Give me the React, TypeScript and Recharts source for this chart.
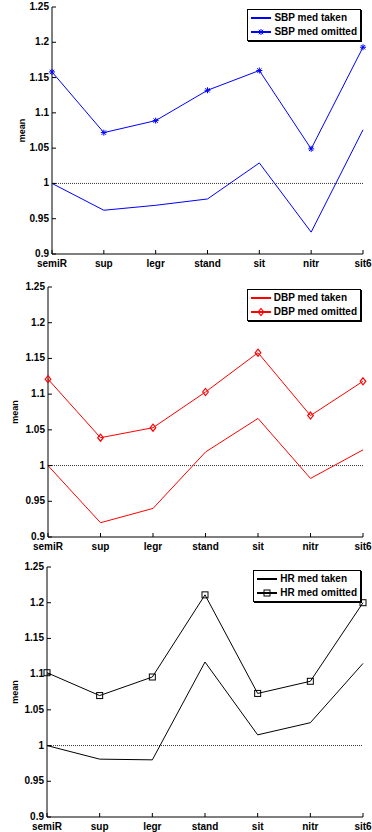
import React from 'react';
import { LineChart, Line, XAxis, YAxis, ReferenceLine, Legend } from 'recharts';

const categories = ['semiR', 'sup', 'legr', 'stand', 'sit', 'nitr', 'sit6'];

const sbpTaken = [1.0, 0.962, 0.969, 0.978, 1.029, 0.931, 1.076];
const sbpOmitted = [1.158, 1.072, 1.089, 1.132, 1.16, 1.049, 1.193];
const dbpTaken = [1.0, 0.92, 0.94, 1.019, 1.066, 0.982, 1.022];
const dbpOmitted = [1.121, 1.039, 1.053, 1.103, 1.158, 1.07, 1.118];
const hrTaken = [1.0, 0.981, 0.98, 1.117, 1.015, 1.032, 1.115];
const hrOmitted = [1.102, 1.07, 1.096, 1.211, 1.073, 1.09, 1.2];

const yTicks = [0.9, 0.95, 1, 1.05, 1.1, 1.15, 1.2, 1.25];
const yLabel = 'mean';

const FONT = '"Liberation Sans", Arial, Helvetica, sans-serif';

type Marker = 'star' | 'diamond' | 'square';

const drawMarker = (kind: Marker, cx: number, cy: number, color: string, key?: any) => {
  if (kind === 'star') {
    const r = 3;
    const d = 2.2;
    return (
      <g key={key}>
        <line x1={cx - r} x2={cx + r} y1={cy} y2={cy} stroke={color} strokeWidth={1} />
        <line x1={cx} x2={cx} y1={cy - r} y2={cy + r} stroke={color} strokeWidth={1} />
        <line x1={cx - d} x2={cx + d} y1={cy - d} y2={cy + d} stroke={color} strokeWidth={1} />
        <line x1={cx - d} x2={cx + d} y1={cy + d} y2={cy - d} stroke={color} strokeWidth={1} />
      </g>
    );
  }
  if (kind === 'diamond') {
    const r = 3.5;
    return (
      <polygon
        key={key}
        points={`${cx},${cy - r} ${cx + r * 0.8},${cy} ${cx},${cy + r} ${cx - r * 0.8},${cy}`}
        fill="none"
        stroke={color}
        strokeWidth={1.2}
      />
    );
  }
  return <rect key={key} x={cx - 3} y={cy - 3} width={6} height={6} fill="none" stroke={color} strokeWidth={1} />;
};

const BottomTick = (props: any) => {
  const { x, y, payload } = props;
  return (
    <g>
      <line x1={x} x2={x} y1={y} y2={y - 4} stroke="#000" />
      <text x={x} y={y + 12.5} textAnchor="middle" fontSize={10} fontWeight="bold" fontFamily={FONT} fill="#000">
        {payload.value}
      </text>
    </g>
  );
};

const TopTick = (props: any) => {
  const { x, y } = props;
  return <line x1={x} x2={x} y1={y} y2={y + 4} stroke="#000" />;
};

const LeftTick = (props: any) => {
  const { x, y, payload } = props;
  return (
    <g>
      <line x1={x} x2={x + 4} y1={y} y2={y} stroke="#000" />
      <text x={x - 3} y={y + 3} textAnchor="end" fontSize={10} fontWeight="bold" fontFamily={FONT} fill="#000">
        {String(Number(Number(payload.value).toFixed(2)))}
      </text>
    </g>
  );
};

const RightTick = (props: any) => {
  const { x, y } = props;
  return <line x1={x} x2={x - 4} y1={y} y2={y} stroke="#000" />;
};

interface PanelProps {
  top: number;
  height: number;
  yWidth: number;
  xHeight: number;
  labelOffset: number;
  color: string;
  marker: Marker;
  name: string;
  taken: number[];
  omitted: number[];
  legendTop: number;
}

const Panel = ({ top, height, yWidth, xHeight, labelOffset, color, marker, name, taken, omitted, legendTop }: PanelProps) => {
  const data = categories.map((c, i) => ({ cat: c, taken: taken[i], omitted: omitted[i] }));
  const takenName = `${name} med taken`;
  const omittedName = `${name} med omitted`;

  const legendContent = () => (
    <div
      style={{
        border: '1px solid #000',
        boxShadow: '1px 1px 0 #000',
        background: '#fff',
        padding: '1px 3px 1px 2px',
        fontFamily: FONT,
        fontSize: 10,
        fontWeight: 'bold',
        lineHeight: '14px',
        color: '#000',
      }}
    >
      {[takenName, omittedName].map((label, i) => (
        <div key={label} style={{ display: 'flex', alignItems: 'center', whiteSpace: 'nowrap', height: 14 }}>
          <svg width={22} height={14} style={{ flex: 'none', display: 'block' }}>
            <line x1={1} x2={21} y1={7} y2={7} stroke={color} strokeWidth={1.3} shapeRendering="crispEdges" />
            {i === 1 && drawMarker(marker, 11, 7, color)}
          </svg>
          <span style={{ marginLeft: 2 }}>{label}</span>
        </div>
      ))}
    </div>
  );

  return (
    <div style={{ position: 'absolute', left: 0, top }}>
      <LineChart width={372} height={height} data={data} margin={{ top: 7, right: 9, bottom: 0, left: 0 }}>
        <XAxis
          dataKey="cat"
          height={xHeight}
          tickSize={0}
          tickMargin={0}
          tick={<BottomTick />}
          interval={0}
          axisLine={{ stroke: '#000' }}
          tickLine={false}
        />
        <XAxis
          dataKey="cat"
          xAxisId="top"
          orientation="top"
          height={0}
          tickSize={0}
          tickMargin={0}
          tick={<TopTick />}
          interval={0}
          axisLine={{ stroke: '#000' }}
          tickLine={false}
        />
        <YAxis
          type="number"
          domain={[0.9, 1.25]}
          ticks={yTicks}
          width={yWidth}
          tickSize={0}
          tickMargin={0}
          tick={<LeftTick />}
          interval={0}
          axisLine={{ stroke: '#000' }}
          tickLine={false}
          label={{
            content: (p: any) => {
              const vb = p.viewBox || { x: 0, y: 7, width: yWidth, height: 247 };
              const lx = vb.x + vb.width - labelOffset;
              const ly = vb.y + vb.height / 2;
              return (
                <text
                  x={lx}
                  y={ly}
                  transform={`rotate(-90 ${lx} ${ly})`}
                  textAnchor="middle"
                  fontSize={9}
                  fontWeight="bold"
                  fontFamily={FONT}
                  fill="#000"
                >
                  {yLabel}
                </text>
              );
            },
          }}
        />
        <YAxis
          yAxisId="r"
          orientation="right"
          type="number"
          domain={[0.9, 1.25]}
          ticks={yTicks}
          width={0}
          tickSize={0}
          tickMargin={0}
          tick={<RightTick />}
          interval={0}
          axisLine={{ stroke: '#000' }}
          tickLine={false}
        />
        <ReferenceLine y={1} stroke="#333" strokeDasharray="1 1" strokeWidth={1} />
        <Line
          dataKey="taken"
          name={takenName}
          stroke={color}
          strokeWidth={1}
          dot={false}
          isAnimationActive={false}
        />
        <Line
          dataKey="omitted"
          name={omittedName}
          stroke={color}
          strokeWidth={1}
          dot={(p: any) => drawMarker(marker, p.cx, p.cy, color, `m${p.index}`)}
          isAnimationActive={false}
        />
        <Legend
          layout="vertical"
          align="center"
          verticalAlign="middle"
          content={legendContent}
          wrapperStyle={{ top: legendTop, right: 11, left: 'auto', width: 'auto' }}
        />
      </LineChart>
    </div>
  );
};

export default function App() {
  return (
    <div style={{ position: 'absolute', left: 0, top: 0, width: 372, height: 832, background: '#fff' }}>
      <Panel
        top={0}
        height={280}
        yWidth={52}
        xHeight={26}
        labelOffset={27}
        color="#0000ff"
        marker="star"
        name="SBP"
        taken={sbpTaken}
        omitted={sbpOmitted}
        legendTop={9}
      />
      <Panel
        top={280}
        height={280}
        yWidth={48}
        xHeight={23}
        labelOffset={30}
        color="#ff0000"
        marker="diamond"
        name="DBP"
        taken={dbpTaken}
        omitted={dbpOmitted}
        legendTop={9}
      />
      <Panel
        top={560}
        height={272}
        yWidth={47}
        xHeight={15}
        labelOffset={29}
        color="#000000"
        marker="square"
        name="HR"
        taken={hrTaken}
        omitted={hrOmitted}
        legendTop={10}
      />
    </div>
  );
}
